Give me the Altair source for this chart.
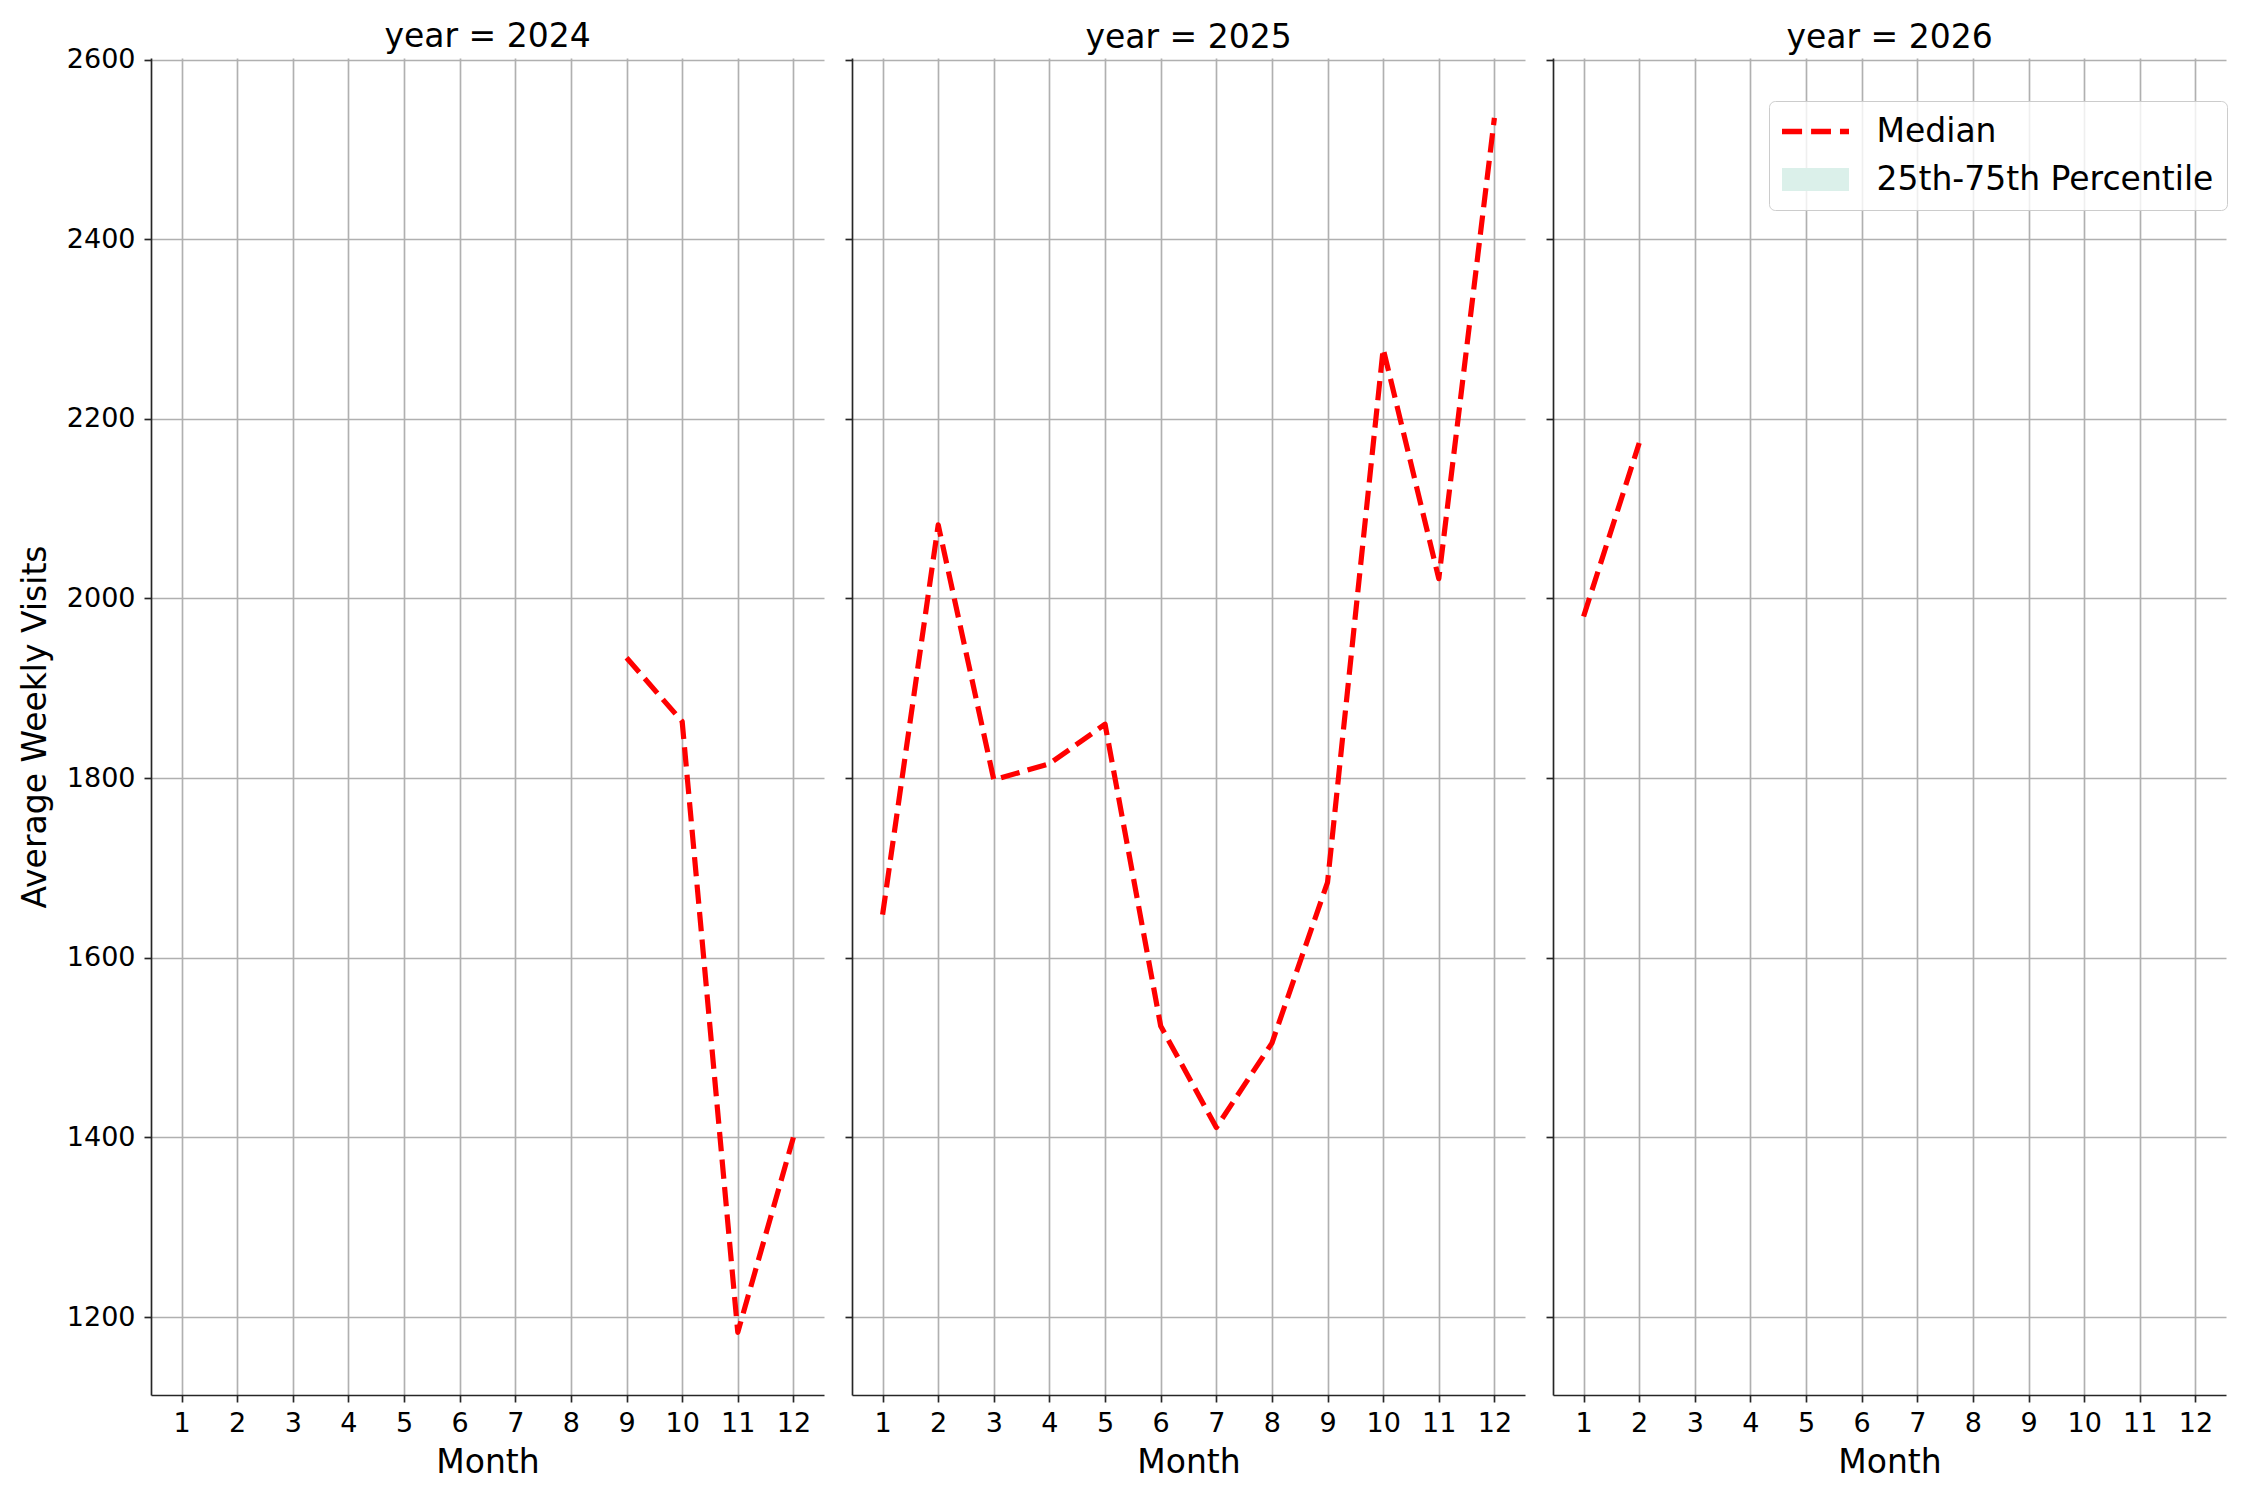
import altair as alt
import pandas as pd

# ---- data ----
years = [2024, 2025, 2026]
months_2024 = [9, 10, 11, 12]
median_2024 = [1934, 1863, 1183, 1400]
months_2025 = [1, 2, 3, 4, 5, 6, 7, 8, 9, 10, 11, 12]
median_2025 = [1648, 2082, 1798, 1816, 1860, 1524, 1411, 1505, 1684, 2278, 2022, 2535]
months_2026 = [1, 2]
median_2026 = [1980, 2173]
month_ticks = [1, 2, 3, 4, 5, 6, 7, 8, 9, 10, 11, 12]
y_ticks = [1200, 1400, 1600, 1800, 2000, 2200, 2400, 2600]
legend_labels = ["Median", "25th-75th Percentile"]

series = {
    2024: (months_2024, median_2024),
    2025: (months_2025, median_2025),
    2026: (months_2026, median_2026),
}

FONT = "DejaVu Sans"
W, H = 673, 1337

# legend symbol paths; symbol box is 34px (17px per unit), drawn 67px wide
dash_path = ("M-1.97,-0.16H-0.79V0.16H-1.97Z "
             "M-0.26,-0.16H0.91V0.16H-0.26Z "
             "M1.44,-0.16H1.97V0.16H1.44Z")
rect_path = "M-1.97,-0.676H1.97V0.676H-1.97Z"


def panel(year, first, last):
    months, values = series[year]
    df = pd.DataFrame({"Month": months, "Visits": values})
    x = alt.X("Month:Q",
              scale=alt.Scale(domain=[0.45, 12.55], nice=False, zero=False),
              axis=alt.Axis(values=month_ticks, title="Month", format="d",
                            labelPadding=8, titlePadding=10))
    if first:
        yaxis = alt.Axis(values=y_ticks, title="Average Weekly Visits", format="d",
                         labelPadding=9, titlePadding=14)
    else:
        yaxis = alt.Axis(values=y_ticks, title=None, labels=False)
    y = alt.Y("Visits:Q",
              scale=alt.Scale(domain=[1113.2, 2601.7], nice=False, zero=False),
              axis=yaxis)
    line = alt.Chart(df).mark_line(
        color="#ff0000", strokeDash=[19.3, 8.3], strokeWidth=5.2,
        strokeJoin="round", strokeCap="butt"
    ).encode(x=x, y=y)
    layers = [line]
    if last:
        leg_df = pd.DataFrame({"series": legend_labels,
                               "Month": [None, None], "Visits": [None, None]})
        leg = alt.Legend(
            title=None, orient="none", legendX=216, legendY=43,
            labelFontSize=33, labelFont=FONT, labelColor="black", labelLimit=600,
            symbolSize=1156, symbolStrokeWidth=0, symbolOpacity=1,
            symbolOffset=16, rowPadding=14, labelOffset=44, padding=13.5,
            strokeColor="#cccccc", fillColor="rgba(255,255,255,0.8)",
            cornerRadius=6,
        )
        pts = alt.Chart(leg_df).mark_point(filled=True, opacity=1).encode(
            x=x, y=y,
            color=alt.Color("series:N",
                            scale=alt.Scale(domain=legend_labels,
                                            range=["#ff0000", "#dbf0ea"]),
                            legend=leg),
            shape=alt.Shape("series:N",
                            scale=alt.Scale(domain=legend_labels,
                                            range=[dash_path, rect_path]),
                            legend=leg),
        )
        layers.append(pts)
    return alt.layer(*layers).properties(
        width=W, height=H,
        title=alt.TitleParams(f"year = {year}", fontSize=33, font=FONT,
                              fontWeight="normal", color="black",
                              anchor="middle", frame="group",
                              offset=-8.5 if first else 3),
    )


chart = alt.hconcat(
    panel(2024, True, False),
    panel(2025, False, False),
    panel(2026, False, True),
    spacing=20,
).resolve_scale(color="independent", shape="independent").configure_axis(
    domainColor="#262626", domainWidth=1.67,
    tickColor="#262626", tickWidth=1.67, tickSize=7,
    labelFontSize=27, labelFont=FONT, labelColor="black",
    titleFontSize=33, titleFont=FONT, titleFontWeight="normal", titleColor="black",
    grid=True, gridColor="#b0b0b0", gridWidth=1.67, gridOpacity=1,
).configure_view(stroke=None).properties(
    padding={"left": 11, "top": 13, "right": 5, "bottom": 5},
    background="white",
)

chart.save("out.html", embed_options={"renderer": "svg", "actions": False})
